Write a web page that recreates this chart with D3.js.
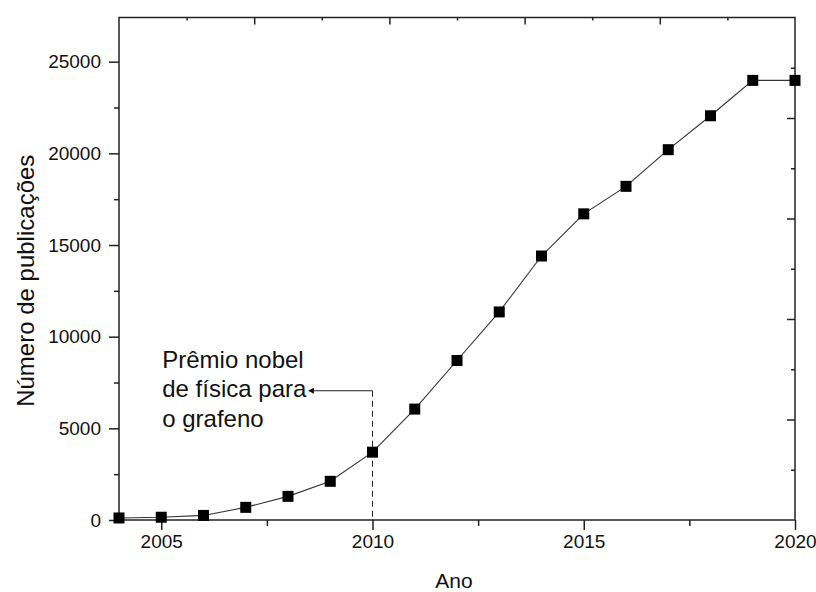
<!DOCTYPE html>
<html>
<head>
<meta charset="utf-8">
<script src="https://cdn.jsdelivr.net/npm/d3@7"></script>
<style>
  html, body { margin: 0; padding: 0; background: #fff; }
  svg { display: block; font-family: "Liberation Sans", Arial, sans-serif; }
</style>
</head>
<body>
<svg id="chart" width="816" height="592"></svg>
<script>
// ---- data ----
const years = [2004, 2005, 2006, 2007, 2008, 2009, 2010, 2011, 2012, 2013, 2014, 2015, 2016, 2017, 2018, 2019, 2020];
const publications = [110, 150, 250, 690, 1290, 2110, 3700, 6050, 8700, 11350, 14400, 16700, 18200, 20200, 22050, 23980, 23980];
const xTicks = [2005, 2010, 2015, 2020];
const xMinorTicks = [2007.5, 2012.5, 2017.5];
const yTicks = [0, 5000, 10000, 15000, 20000, 25000];
const yMinorTicks = [2500, 7500, 12500, 17500, 22500];
const annotationLines = ["Prêmio nobel", "de física para", "o grafeno"];
const annotationYear = 2010;
const annotationValue = 7050;
const arrowTipYear = 2008.6;
const xTitle = "Ano";
const yTitle = "Número de publicações";

(function () {
// ---- layout ----
const pL = 119, pR = 795, pT = 17.5, pB = 520;
const svg = d3.select("#chart");

const x = d3.scaleLinear().domain([2004, 2020]).range([pL, pR]);
const y = d3.scaleLinear().domain([0, 27410]).range([pB, pT]);
// mirror axes (top / right) have 5 equal divisions with half-step minors
const xTop = d3.scaleLinear().domain([0, 5]).range([pL, pR]);
const yRight = d3.scaleLinear().domain([0, 5]).range([pB, pT]);

const axisColor = "#222";

function styleAxis(g) {
  g.select(".domain").remove();
  g.selectAll(".tick line").attr("stroke", axisColor).attr("stroke-width", 1.5);
  g.selectAll(".tick text").attr("fill", "#111").style("font-family", '"Liberation Sans", Arial, sans-serif').attr("font-size", 19);
}

// frame
svg.append("rect")
  .attr("x", pL).attr("y", pT)
  .attr("width", pR - pL).attr("height", pB - pT)
  .attr("fill", "none").attr("stroke", axisColor).attr("stroke-width", 1.5);

// bottom axis
svg.append("g").attr("transform", `translate(0,${pB})`)
  .call(d3.axisBottom(x).tickValues(xTicks).tickFormat(d3.format("d")).tickSize(10).tickPadding(5))
  .call(styleAxis);
svg.append("g").attr("transform", `translate(0,${pB})`)
  .call(d3.axisBottom(x).tickValues(xMinorTicks).tickFormat("").tickSize(6))
  .call(styleAxis);

// left axis
svg.append("g").attr("transform", `translate(${pL},0)`)
  .call(d3.axisLeft(y).tickValues(yTicks).tickFormat(d3.format("d")).tickSize(10).tickPadding(8))
  .call(styleAxis);
svg.append("g").attr("transform", `translate(${pL},0)`)
  .call(d3.axisLeft(y).tickValues(yMinorTicks).tickFormat("").tickSize(5))
  .call(styleAxis);

// top mirror axis (ticks inward)
svg.append("g").attr("transform", `translate(0,${pT})`)
  .call(d3.axisBottom(xTop).tickValues([1, 2, 3, 4]).tickFormat("").tickSize(7))
  .call(styleAxis);
svg.append("g").attr("transform", `translate(0,${pT})`)
  .call(d3.axisBottom(xTop).tickValues([0.5, 1.5, 2.5, 3.5, 4.5]).tickFormat("").tickSize(3))
  .call(styleAxis);

// right mirror axis (ticks inward)
svg.append("g").attr("transform", `translate(${pR},0)`)
  .call(d3.axisLeft(yRight).tickValues([1, 2, 3, 4]).tickFormat("").tickSize(8))
  .call(styleAxis);
svg.append("g").attr("transform", `translate(${pR},0)`)
  .call(d3.axisLeft(yRight).tickValues([0.5, 1.5, 2.5, 3.5, 4.5]).tickFormat("").tickSize(4))
  .call(styleAxis);

// axis titles
svg.append("text")
  .attr("x", (pL + pR) / 2 - 3).attr("y", 588)
  .attr("text-anchor", "middle").attr("font-size", 21).attr("fill", "#111")
  .text(xTitle);
svg.append("text")
  .attr("transform", `translate(34,${(pT + pB) / 2 + 12}) rotate(-90)`)
  .attr("text-anchor", "middle").attr("font-size", 24).attr("fill", "#111")
  .text(yTitle);

// annotation: dashed drop line + arrow
const ax = x(annotationYear), ay = y(annotationValue);
svg.append("line")
  .attr("x1", ax).attr("x2", ax).attr("y1", ay).attr("y2", y(0))
  .attr("stroke", "#222").attr("stroke-width", 1).attr("stroke-dasharray", "6,4");
svg.append("defs").append("marker")
  .attr("id", "arrow").attr("viewBox", "0 0 10 10")
  .attr("refX", 1).attr("refY", 5)
  .attr("markerWidth", 10).attr("markerHeight", 6)
  .attr("markerUnits", "userSpaceOnUse")
  .attr("orient", "auto-start-reverse")
  .append("path").attr("d", "M0,0 L10,5 L0,10 z").attr("fill", "#111");
svg.append("line")
  .attr("x1", ax).attr("x2", x(arrowTipYear)).attr("y1", ay).attr("y2", ay)
  .attr("stroke", "#222").attr("stroke-width", 1.2)
  .attr("marker-end", "url(#arrow)");

const annText = svg.append("text")
  .attr("font-size", 24).attr("fill", "#111");
annotationLines.forEach((t, i) => {
  annText.append("tspan")
    .attr("x", x(2005) + 1)
    .attr("y", ay - 23 + i * 29.5)
    .text(t);
});

// series line
const line = d3.line().x((d, i) => x(years[i])).y(d => y(d));
svg.append("path")
  .datum(publications)
  .attr("d", line)
  .attr("fill", "none").attr("stroke", "#333").attr("stroke-width", 1.1);

// markers
const ms = 11;
svg.append("g").selectAll("rect")
  .data(publications)
  .join("rect")
  .attr("x", (d, i) => x(years[i]) - ms / 2)
  .attr("y", d => y(d) - ms / 2)
  .attr("width", ms).attr("height", ms)
  .attr("fill", "#000");
})();
</script>
</body>
</html>
